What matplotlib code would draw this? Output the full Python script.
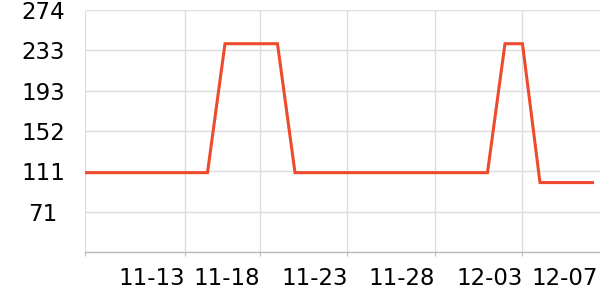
import matplotlib
matplotlib.use("Agg")
import matplotlib.pyplot as plt
import numpy as np

# Data: one value per day-index
values = [110, 110, 110, 110, 110, 110, 110, 110,
          240, 240, 240, 240,
          110, 110, 110, 110, 110, 110, 110, 110, 110, 110, 110, 110,
          240, 240,
          100, 100, 100, 100]
x_tick_pos = [0, 5.7, 10, 15, 20, 25, 29.3]
x_tick_labels = ["", "11-13", "11-18", "11-23", "11-28", "12-03", "12-07"]
y_min, y_max = 30, 274
y_ticks = np.linspace(y_min, y_max, 7)
y_tick_labels = [""] + [str(int(round(v))) for v in y_ticks[1:]]

fig = plt.figure(figsize=(6, 3), dpi=100)
ax = fig.add_axes([85/600, 48/300, 515/600, 242/300])

x = np.arange(len(values))
ax.plot(x, values, color="#ee4a2c", lw=2.2, solid_joinstyle="miter", zorder=3)

ax.set_xlim(0, 29.43)
ax.set_ylim(y_min, y_max)
ax.set_yticks(y_ticks)
ax.set_yticklabels(y_tick_labels)
ax.set_xticks(x_tick_pos)
ax.set_xticklabels(x_tick_labels, ha="right")

for s in ["top", "right", "left"]:
    ax.spines[s].set_visible(False)
ax.spines["bottom"].set_color("#bbbbbb")
ax.spines["bottom"].set_linewidth(1)

ax.grid(True, color="#dddddd", lw=1)
ax.set_axisbelow(True)
ax.tick_params(axis="y", length=0, pad=30.2, labelsize=16.5)
for lbl in ax.get_yticklabels():
    lbl.set_ha("center")
ax.tick_params(axis="x", length=3, color="#bbbbbb", pad=7.5, labelsize=16.5)

# last tick (12-07) has no tick mark or gridline
xt = ax.xaxis.get_major_ticks()
xt[-1].tick1line.set_visible(False)
xt[-1].gridline.set_visible(False)

fig.savefig("out.png", dpi=100)
